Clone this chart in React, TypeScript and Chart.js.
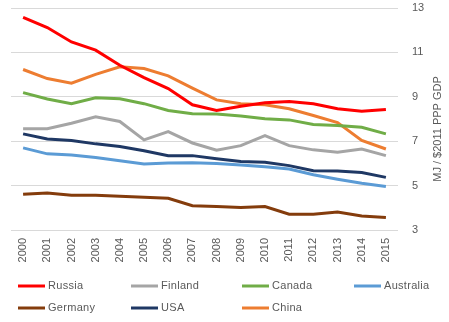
import React, { useEffect, useRef } from "react";
import { Chart, registerables } from "chart.js";

Chart.register(...registerables);

const years = ["2000","2001","2002","2003","2004","2005","2006","2007","2008","2009","2010","2011","2012","2013","2014","2015"];
const russia = [12.58,12.12,11.47,11.1,10.42,9.86,9.37,8.64,8.38,8.57,8.73,8.79,8.69,8.46,8.35,8.43];
const finland = [7.56,7.56,7.81,8.1,7.89,7.06,7.43,6.92,6.59,6.8,7.25,6.8,6.61,6.5,6.65,6.35];
const canada = [9.19,8.9,8.69,8.96,8.91,8.69,8.38,8.24,8.22,8.13,8.01,7.96,7.75,7.71,7.63,7.33];
const australia = [6.7,6.43,6.38,6.27,6.12,5.97,6.02,6.03,5.99,5.93,5.85,5.75,5.49,5.29,5.11,4.96];
const germany = [4.61,4.67,4.57,4.57,4.52,4.48,4.43,4.09,4.06,4.01,4.06,3.71,3.71,3.81,3.63,3.56];
const usa = [7.33,7.1,7.03,6.88,6.76,6.57,6.35,6.35,6.21,6.09,6.05,5.9,5.67,5.66,5.59,5.37];
const china = [10.23,9.82,9.61,10.01,10.35,10.27,9.94,9.39,8.86,8.69,8.64,8.46,8.16,7.84,7.03,6.65];
const yTicks = [3, 5, 7, 9, 11, 13];
const yTitle = "MJ / $2011 PPP GDP";

const seriesNames = ["Russia","Finland","Canada","Australia","Germany","USA","China"];
const seriesData = [russia, finland, canada, australia, germany, usa, china];
const seriesColors = ["#FF0000","#A5A5A5","#70AD47","#5B9BD5","#843C0C","#1F3864","#ED7D31"];

const FONT = "'Liberation Sans', Arial, sans-serif";
const TEXT = "#595959";

const extrasPlugin = {
  id: "extras",
  afterDraw(chart: any) {
    const ctx = chart.ctx;
    ctx.save();
    ctx.fillStyle = TEXT;
    ctx.font = `11px ${FONT}`;
    ctx.textAlign = "center";
    ctx.textBaseline = "middle";
    ctx.translate(438, 129);
    ctx.rotate(-Math.PI / 2);
    ctx.fillText(yTitle, 0, 0);
    ctx.restore();

    ctx.save();
    ctx.font = `11px ${FONT}`;
    ctx.textBaseline = "middle";
    ctx.textAlign = "left";
    try { (ctx as any).letterSpacing = "0.3px"; } catch (e) {}
    const colX = [18, 131, 242, 354];
    const rowY = [286, 308];
    chart.data.datasets.forEach((ds: any, i: number) => {
      const c = i % 4;
      const r = Math.floor(i / 4);
      const x = colX[c];
      const y = rowY[r];
      ctx.strokeStyle = ds.borderColor;
      ctx.lineWidth = 3;
      ctx.beginPath();
      ctx.moveTo(x, y);
      ctx.lineTo(x + 27, y);
      ctx.stroke();
      ctx.fillStyle = TEXT;
      ctx.fillText(ds.label, x + 30, y);
    });
    ctx.restore();
  },
};

export default function App() {
  const ref = useRef<HTMLCanvasElement | null>(null);
  useEffect(() => {
    if (!ref.current) return;
    const chart = new Chart(ref.current, {
      type: "line",
      data: {
        labels: years,
        datasets: seriesNames.map((n, i) => ({
          label: n,
          data: seriesData[i],
          borderColor: seriesColors[i],
          backgroundColor: seriesColors[i],
          borderWidth: 3,
          pointRadius: 0,
          tension: 0,
          fill: false,
        })),
      },
      options: {
        animation: false,
        responsive: false,
        maintainAspectRatio: false,
        layout: { padding: { left: 11, top: 8, right: 0, bottom: 50 } },
        plugins: { legend: { display: false }, tooltip: { enabled: false } },
        scales: {
          x: {
            offset: true,
            grid: { display: false, drawTicks: false },
            border: { display: false },
            ticks: {
              color: TEXT,
              font: { family: FONT, size: 11 },
              minRotation: 90,
              maxRotation: 90,
              padding: 8,
              autoSkip: false,
            },
            afterFit(scale: any) {
              scale.height = 42;
              scale.paddingLeft = 0;
              scale.paddingRight = 0;
              scale.paddingTop = 0;
              scale.paddingBottom = 0;
            },
          },
          y: {
            position: "right",
            min: 3,
            max: 13,
            afterBuildTicks(scale: any) {
              scale.ticks = yTicks.map((v) => ({ value: v }));
            },
            grid: { color: "#D9D9D9", lineWidth: 1, drawTicks: false },
            border: { display: false },
            ticks: {
              color: TEXT,
              font: { family: FONT, size: 11 },
              padding: 14,
            },
            afterFit(scale: any) {
              scale.width = 51;
              scale.paddingTop = 0;
              scale.paddingBottom = 0;
              scale.paddingLeft = 0;
              scale.paddingRight = 0;
            },
          },
        },
      },
      plugins: [extrasPlugin],
    });
    return () => chart.destroy();
  }, []);
  return (
    <div style={{ position: "fixed", left: 0, top: 0, width: 449, height: 322, background: "#fff" }}>
      <canvas ref={ref} width={449} height={322} style={{ width: 449, height: 322 }} />
    </div>
  );
}
